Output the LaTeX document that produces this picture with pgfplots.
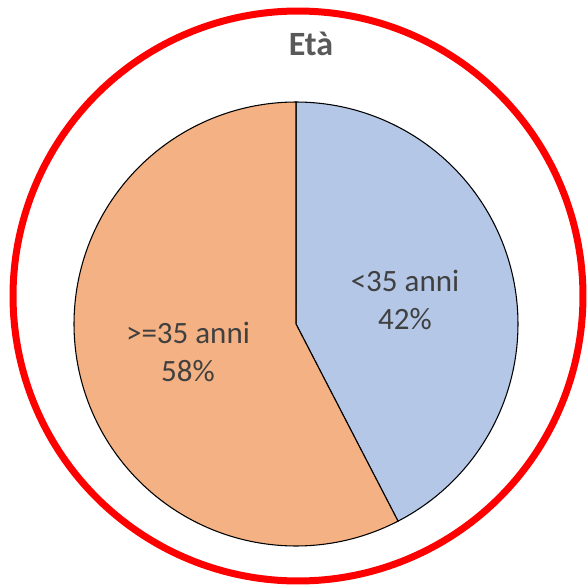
\documentclass[border=0pt]{standalone}
\usepackage{pgfplots}
\pgfplotsset{compat=1.18}
\usepackage{fontspec}
\setmainfont{Carlito}
\definecolor{sliceA}{HTML}{B4C7E7}
\definecolor{sliceB}{HTML}{F4B183}
\definecolor{lbl}{HTML}{404040}
\definecolor{ttl}{HTML}{595959}
% shares (percent), as read from the slice boundary
\def\shareA{42.4}%
\def\shareB{57.6}%
\begin{document}%
\begin{tikzpicture}%
\begin{axis}[
  scale only axis, width=440.25pt, height=439.5pt,
  xmin=0, xmax=587, ymin=0, ymax=586, y dir=reverse,
  hide axis, clip=false,
  trig format plots=deg,
]
\addplot[fill=sliceA, draw=black, line width=0.8pt, domain=0:{3.6*\shareA}, samples=120, variable=\t]
  ({296+222*sin(\t)}, {324-222*cos(\t)}) -- (axis cs:296,324) -- cycle;
\addplot[fill=sliceB, draw=black, line width=0.8pt, domain={3.6*\shareA}:360, samples=160, variable=\t]
  ({296+222*sin(\t)}, {324-222*cos(\t)}) -- (axis cs:296,324) -- cycle;
\addplot[red, line width=5.25pt, domain=0:360, samples=300, variable=\t]
  ({298+285*sin(\t)}, {296-285*cos(\t)});
\node[anchor=base, text=ttl, font=\fontsize{25.5}{30}\selectfont\bfseries] at (axis cs:311,55.5) {Età};
\node[align=center, text=lbl, font=\fontsize{23.25}{28.5}\selectfont] at (axis cs:405,300) {<35 anni\\42\%};
\node[align=center, text=lbl, font=\fontsize{23.25}{28.5}\selectfont] at (axis cs:188,352) {>=35 anni\\58\%};
\end{axis}
\pgfresetboundingbox
\path[use as bounding box] (current axis.south west) rectangle (current axis.north east);
\end{tikzpicture}%
\end{document}
